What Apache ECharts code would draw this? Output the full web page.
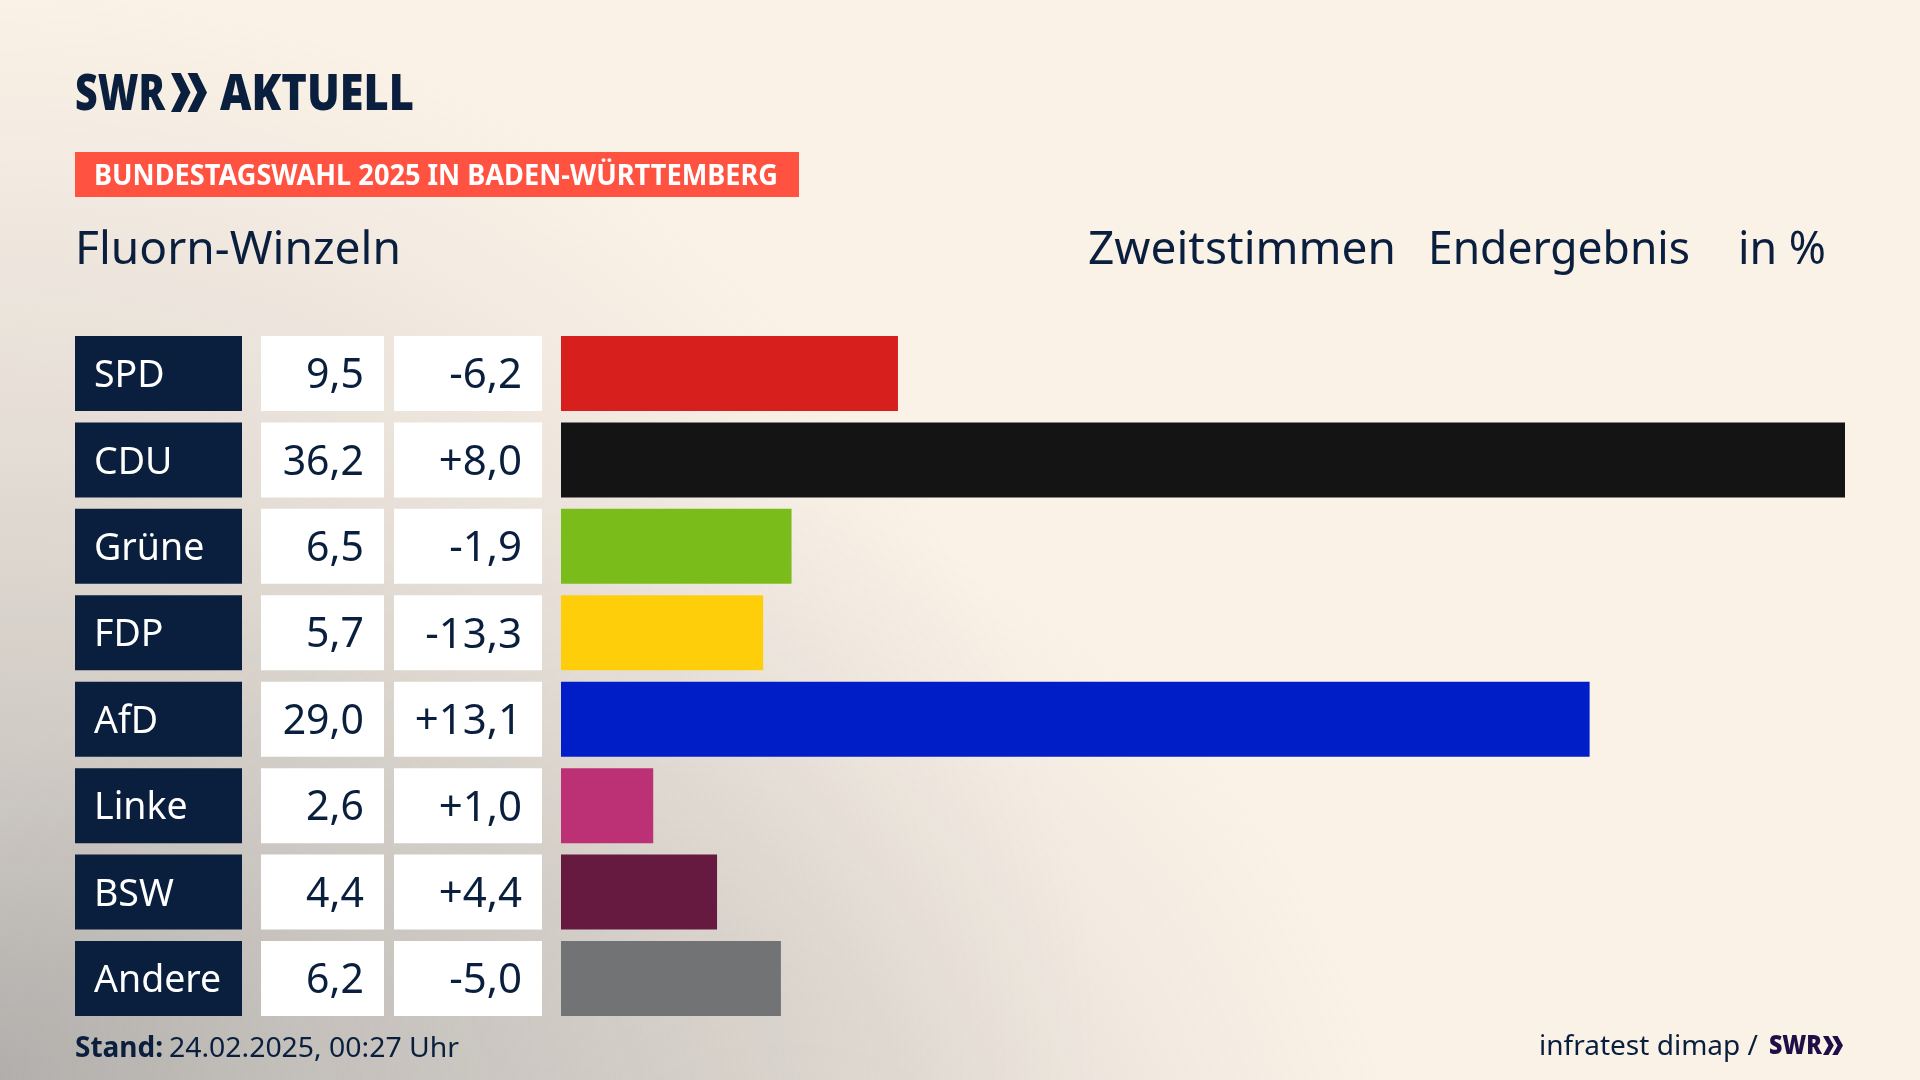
<!DOCTYPE html>
<html>
<head>
<meta charset="utf-8">
<title>Bundestagswahl 2025 Fluorn-Winzeln</title>
<style>
  html, body { margin: 0; padding: 0; background: #faf1e7; }
  #chart { width: 1920px; height: 1080px; }
</style>
<script src="https://cdn.jsdelivr.net/npm/echarts@6/dist/echarts.min.js"></script>
</head>
<body>
<div id="chart"></div>
<script>
var parties = ['SPD', 'CDU', 'Grüne', 'FDP', 'AfD', 'Linke', 'BSW', 'Andere'];
var shares = [9.5, 36.2, 6.5, 5.7, 29.0, 2.6, 4.4, 6.2];
var changes = [-6.2, 8.0, -1.9, -13.3, 13.1, 1.0, 4.4, -5.0];
var colors = ['#d71f1d', '#141414', '#7abd1b', '#ffce0a', '#001ec8', '#bc3175', '#671a3f', '#717375'];

var navy = '#0a1f3d';
var font = '"Noto Sans"';

function fmt(v) { return v.toFixed(1).replace('.', ','); }
function fmtChange(v) { return (v > 0 ? '+' : '') + fmt(v); }

// stretches text to the width it has in the original (its font is narrower than ours)
var ctx = document.createElement('canvas').getContext('2d');
function label(text, x, y, w, size, weight, fill) {
    var f = weight + ' ' + size + 'px ' + font;
    ctx.font = f;
    return {
        type: 'text', x: x, y: y, scaleX: w / ctx.measureText(text).width, silent: true,
        style: { text: text, font: f, fill: fill || navy, textAlign: 'left', textVerticalAlign: 'middle' }
    };
}
function chevrons(x, y, w, h, fill) {
    var a = w * 0.27, t = w * 0.27;
    return [0, 1].map(function (i) {
        var l = x + i * (w - a - t);
        return {
            type: 'polygon', silent: true,
            shape: { points: [[l, y], [l + t, y], [l + t + a, y + h / 2], [l + t, y + h], [l, y + h], [l + a, y + h / 2]] },
            style: { fill: fill }
        };
    });
}
// grey haze of the background, fading out to nothing
function haze(cx, cy, r, stops) {
    return {
        type: 'rect', silent: true, z: -10, shape: { x: 0, y: 0, width: 1920, height: 1080 },
        style: {
            fill: new echarts.graphic.RadialGradient(cx, cy, r, stops.map(function (s) {
                return { offset: s[0], color: 'rgba(150,150,150,' + s[1] + ')' };
            }), true)
        }
    };
}

function cellAxis(data, offset, width, side, color, bg, size) {
    var pad = side === 'right' ? 20 : 19;
    return {
        type: 'category', inverse: true, position: 'left', offset: offset, data: data,
        axisLine: { show: false }, axisTick: { show: false },
        axisLabel: {
            interval: 0, margin: 0, formatter: '{c|{value}}',
            rich: {
                c: {
                    width: width - pad, height: 69, lineHeight: 69, align: side,
                    padding: side === 'right' ? [6, pad, 0, 0] : [6, 0, 0, pad],
                    backgroundColor: bg, color: color,
                    fontFamily: font, fontSize: size
                }
            }
        }
    };
}

var chart = echarts.init(document.getElementById('chart'));
chart.setOption({
    animation: false,
    graphic: [
        haze(0, 1080, 1100, [[0, 0.72], [0.3, 0.42], [0.6, 0.2], [0.85, 0.06], [1, 0]]),
        haze(620, 1280, 800, [[0, 0.28], [0.45, 0.2], [0.75, 0.07], [1, 0]]),
        label('SWR', 75, 96, 90, 50, '900'),
        label('AKTUELL', 220, 96, 194, 50, '900'),
        { type: 'rect', silent: true, shape: { x: 75, y: 152, width: 724, height: 45 }, style: { fill: '#ff5240' } },
        label('BUNDESTAGSWAHL 2025 IN BADEN-WÜRTTEMBERG', 94, 177, 684, 28, 'bold', '#ffffff'),
        label('Fluorn-Winzeln', 75, 251.5, 326, 45, 'normal'),
        label('Zweitstimmen', 1088, 251.5, 308, 45, 'normal'),
        label('Endergebnis', 1428, 251.5, 262, 45, 'normal'),
        label('in %', 1738, 251.5, 88, 45, 'normal'),
        label('Stand:', 75, 1049, 88, 28, 'bold'),
        label('24.02.2025, 00:27 Uhr', 169, 1049, 290, 28, 'normal'),
        label('infratest dimap /', 1539, 1047, 219, 28, 'normal'),
        label('SWR', 1769, 1046, 53, 27, '900', '#1e0f46')
    ].concat(chevrons(171, 73, 36, 39, navy), chevrons(1823, 1036, 20, 19, '#1e0f46')),
    grid: { left: 561, top: 330.3, width: 1284, height: 691.4 },
    xAxis: { type: 'value', min: 0, max: 36.2, show: false },
    yAxis: [
        cellAxis(parties, 319, 167, 'left', '#ffffff', navy, 37.5),
        cellAxis(shares.map(fmt), 177, 123, 'right', navy, '#ffffff', 41),
        cellAxis(changes.map(fmtChange), 19, 148, 'right', navy, '#ffffff', 42)
    ],
    series: [{
        type: 'bar', yAxisIndex: 0, barWidth: 75, silent: true,
        data: shares.map(function (v, i) { return { value: v, itemStyle: { color: colors[i] } }; })
    }]
});
</script>
</body>
</html>
